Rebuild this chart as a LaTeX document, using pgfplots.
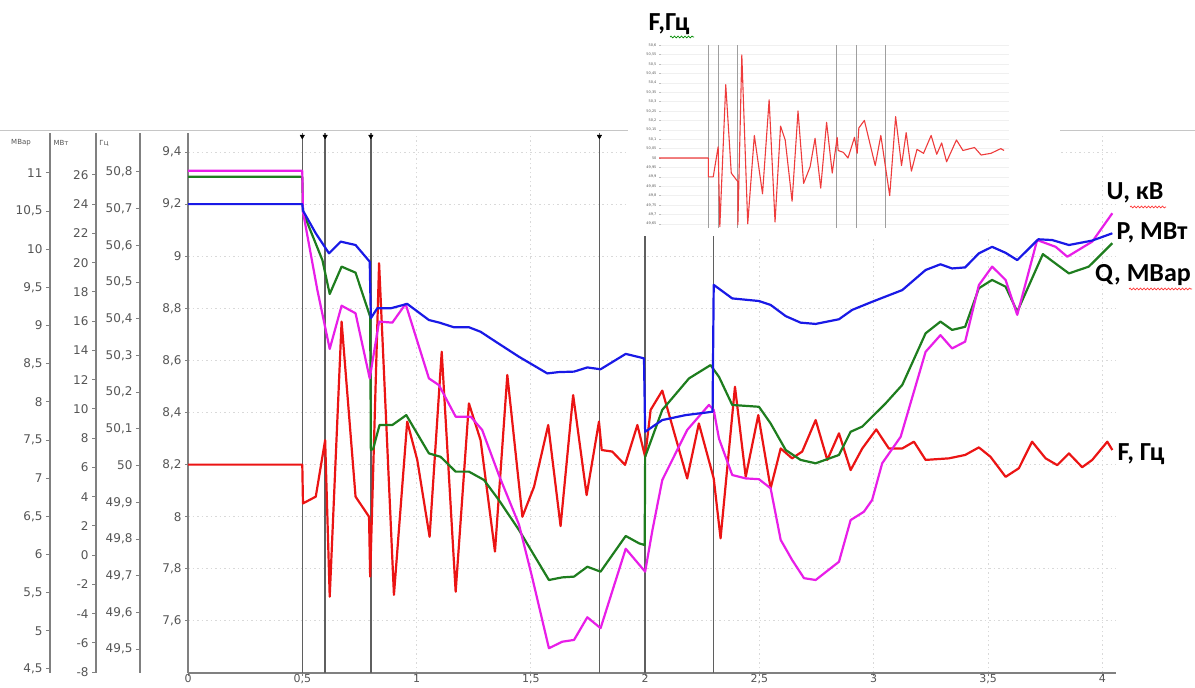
\documentclass[border=0pt]{standalone}
\usepackage{fontspec}
\setmainfont{DejaVu Sans}
\newfontfamily\lab{Carlito}
\usepackage{pgfplots}
\pgfplotsset{compat=1.18}
\usetikzlibrary{decorations.pathmorphing}
\definecolor{cU}{RGB}{25,25,230}
\definecolor{cP}{RGB}{232,30,232}
\definecolor{cQ}{RGB}{30,125,30}
\definecolor{cF}{RGB}{235,20,20}
\definecolor{cFi}{RGB}{238,60,60}
\definecolor{tk}{RGB}{85,85,85}
\definecolor{sp}{RGB}{128,128,128}
\definecolor{ev}{RGB}{95,95,95}
\pgfplotsset{
  numfmt/.style={/pgf/number format/assume math mode=true,/pgf/number format/use comma,/pgf/number format/fixed,/pgf/number format/1000 sep={}},
  sideax/.style={scale only axis, anchor=south west, width=2pt, height=540pt,
    xmin=0, xmax=1, axis x line=none, axis y line*=left,
    y axis line style={sp, line width=2.5pt},
    tick align=outside, major tick length=4pt, ytick style={sp, line width=1pt},
    yticklabel style={font=\fontsize{12}{14}\selectfont, text=tk},
    numfmt}
}
\begin{document}
\begin{tikzpicture}[x=1pt,y=1pt]
\path[use as bounding box] (0,0) rectangle (1195,688);
\draw[gray!45, line width=1pt] (0,557) -- (1195,557);
% side axes
\begin{axis}[sideax, at={(50pt,15pt)}, ymin=4.447, ymax=11.524, ytick={4.5,5,5.5,6,6.5,7,7.5,8,8.5,9,9.5,10,10.5,11}]
\end{axis}
\begin{axis}[sideax, at={(96pt,15pt)}, ymin=-8.06, ymax=28.87, ytick={-8,-6,-4,-2,0,2,4,6,8,10,12,14,16,18,20,22,24,26}]
\end{axis}
\begin{axis}[sideax, at={(140pt,15pt)}, ymin=49.435, ymax=50.906, ytick={49.5,49.6,49.7,49.8,49.9,50,50.1,50.2,50.3,50.4,50.5,50.6,50.7,50.8}]
\end{axis}
\node[font=\fontsize{7}{8}\selectfont, text=tk] at (21,545) {МВар};
\node[font=\fontsize{7}{8}\selectfont, text=tk] at (61,545) {МВт};
\node[font=\fontsize{7}{8}\selectfont, text=tk] at (104,545) {Гц};
% main axis
\begin{axis}[scale only axis, anchor=south west, at={(188pt,15pt)}, width=928pt, height=540pt,
  xmin=0, xmax=4.06, ymin=7.4, ymax=9.473,
  axis x line*=bottom, axis y line*=left, axis line style={sp, line width=2pt},
  xtick={0,0.5,1,1.5,2,2.5,3,3.5,4}, ytick={7.6,7.8,8,8.2,8.4,8.6,8.8,9,9.2,9.4},
  tick align=outside, major tick length=3pt, tick style={sp, line width=1pt},
  grid=major, grid style={dash pattern=on 1.5pt off 3pt, gray!30, line width=0.9pt},
  yticklabel style={font=\fontsize{12}{14}\selectfont, text=tk},
  xticklabel style={font=\fontsize{11}{12}\selectfont, text=tk, inner sep=0.5pt, yshift=2.5pt},
  numfmt, line join=round]
% event lines
\addplot[ev, line width=1.4pt] coordinates {(0.5,7.4) (0.5,9.473)};
\addplot[ev, line width=1.4pt] coordinates {(0.6,7.4) (0.6,9.473)};
\addplot[ev, line width=1.4pt] coordinates {(0.8,7.4) (0.8,9.473)};
\addplot[ev, line width=1.4pt] coordinates {(1.8,7.4) (1.8,9.473)};
\addplot[ev, line width=1.4pt] coordinates {(2.0,7.4) (2.0,9.473)};
\addplot[ev, line width=1.4pt] coordinates {(2.3,7.4) (2.3,9.473)};
\addplot[only marks, mark=triangle*, mark size=2.6pt, mark options={rotate=180, fill=black, draw=black}] coordinates {(0.5,9.46) (0.6,9.46) (0.8,9.46) (1.8,9.46)};
% F
\addplot[cF, line width=2.2pt] coordinates {(0,8.2) (0.5,8.2) (0.503,8.051) (0.559,8.077) (0.60,8.294) (0.62,7.693) (0.672,8.749) (0.733,8.077) (0.792,8.0) (0.797,7.77) (0.836,8.973) (0.901,7.70) (0.959,8.365) (1.003,8.218) (1.057,7.923) (1.11,8.633) (1.171,7.712) (1.229,8.435) (1.28,8.294) (1.343,7.866) (1.397,8.544) (1.463,8.0) (1.514,8.115) (1.576,8.352) (1.63,7.964) (1.685,8.467) (1.744,8.083) (1.798,8.365) (1.81,8.256) (1.856,8.25) (1.912,8.199) (1.966,8.352) (2.0,8.23) (2.024,8.41) (2.075,8.484) (2.184,8.147) (2.235,8.358) (2.30,8.147) (2.33,7.917) (2.393,8.499) (2.44,8.153) (2.495,8.39) (2.549,8.109) (2.593,8.262) (2.643,8.224) (2.687,8.25) (2.746,8.371) (2.797,8.218) (2.848,8.32) (2.899,8.179) (2.95,8.262) (3.011,8.335) (3.066,8.262) (3.125,8.262) (3.176,8.288) (3.227,8.218) (3.329,8.224) (3.40,8.237) (3.46,8.266) (3.511,8.23) (3.577,8.153) (3.635,8.186) (3.693,8.288) (3.752,8.224) (3.803,8.198) (3.854,8.243) (3.912,8.19) (3.956,8.218) (4.022,8.288) (4.044,8.256)};
% Q
\addplot[cQ, line width=2.2pt] coordinates {(0,9.305) (0.5,9.305) (0.503,9.17) (0.588,8.985) (0.62,8.855) (0.672,8.96) (0.733,8.937) (0.797,8.768) (0.8,8.256) (0.81,8.26) (0.838,8.352) (0.894,8.352) (0.955,8.39) (1.054,8.243) (1.105,8.23) (1.171,8.173) (1.229,8.173) (1.295,8.141) (1.36,8.064) (1.448,7.949) (1.579,7.757) (1.637,7.767) (1.689,7.77) (1.747,7.808) (1.805,7.789) (1.915,7.926) (1.973,7.898) (1.998,7.891) (2.0,8.23) (2.075,8.41) (2.192,8.531) (2.286,8.582) (2.323,8.537) (2.381,8.429) (2.498,8.422) (2.549,8.358) (2.615,8.256) (2.68,8.218) (2.746,8.205) (2.848,8.237) (2.899,8.326) (2.95,8.346) (3.052,8.435) (3.125,8.506) (3.227,8.704) (3.292,8.749) (3.343,8.717) (3.40,8.729) (3.46,8.877) (3.518,8.909) (3.577,8.883) (3.628,8.787) (3.74,9.008) (3.854,8.934) (3.941,8.96) (4.044,9.05)};
% P
\addplot[cP, line width=2.2pt] coordinates {(0,9.328) (0.5,9.328) (0.503,9.171) (0.566,8.87) (0.62,8.644) (0.672,8.81) (0.733,8.781) (0.795,8.531) (0.836,8.749) (0.894,8.745) (0.952,8.817) (1.054,8.531) (1.098,8.505) (1.171,8.384) (1.237,8.384) (1.287,8.333) (1.36,8.16) (1.448,7.97) (1.505,7.77) (1.579,7.495) (1.637,7.52) (1.689,7.527) (1.747,7.614) (1.805,7.572) (1.915,7.877) (2.0,7.789) (2.032,7.949) (2.075,8.141) (2.184,8.333) (2.279,8.429) (2.30,8.41) (2.323,8.30) (2.381,8.16) (2.44,8.147) (2.498,8.144) (2.549,8.109) (2.593,7.911) (2.643,7.834) (2.695,7.764) (2.746,7.757) (2.848,7.827) (2.899,7.987) (2.957,8.019) (2.993,8.064) (3.037,8.205) (3.118,8.307) (3.227,8.633) (3.292,8.697) (3.343,8.646) (3.40,8.672) (3.46,8.889) (3.518,8.96) (3.577,8.909) (3.628,8.775) (3.715,9.062) (3.796,9.036) (3.847,8.998) (3.956,9.056) (4.044,9.165)};
% U
\addplot[cU, line width=2.2pt] coordinates {(0,9.2) (0.5,9.2) (0.503,9.175) (0.559,9.088) (0.617,9.011) (0.668,9.056) (0.733,9.043) (0.795,8.979) (0.8,8.762) (0.828,8.80) (0.887,8.80) (0.959,8.817) (1.054,8.755) (1.10,8.745) (1.164,8.727) (1.23,8.727) (1.28,8.71) (1.346,8.672) (1.448,8.614) (1.572,8.55) (1.62,8.555) (1.689,8.557) (1.747,8.573) (1.805,8.566) (1.915,8.625) (1.995,8.608) (2.0,8.326) (2.075,8.371) (2.177,8.39) (2.295,8.403) (2.30,8.89) (2.381,8.838) (2.498,8.828) (2.549,8.813) (2.615,8.77) (2.68,8.745) (2.746,8.74) (2.848,8.758) (2.906,8.794) (2.993,8.825) (3.125,8.87) (3.227,8.947) (3.292,8.969) (3.343,8.953) (3.40,8.957) (3.46,9.011) (3.518,9.036) (3.577,9.013) (3.628,8.985) (3.72,9.065) (3.781,9.062) (3.854,9.043) (3.956,9.06) (4.044,9.088)};
\end{axis}
% series labels
\node[font=\lab\bfseries\fontsize{26}{28}\selectfont, anchor=center] at (1135,495) {U, кВ};
\node[font=\lab\bfseries\fontsize{26}{28}\selectfont, anchor=center] at (1152,455) {P, МВт};
\node[font=\lab\bfseries\fontsize{26}{28}\selectfont, anchor=center] at (1143,413) {Q, МВар};
\node[font=\lab\bfseries\fontsize{26}{28}\selectfont, anchor=center] at (1141,234) {F, Гц};
\draw[red!80, line width=0.7pt, decorate, decoration={snake, amplitude=0.9pt, segment length=3.5pt}] (1130,481) -- (1166,481);
\draw[red!80, line width=0.7pt, decorate, decoration={snake, amplitude=0.9pt, segment length=3.5pt}] (1129,399) -- (1192,399);
% inset
\fill[white] (628,452) rectangle (1060,688);
\node[font=\lab\bfseries\fontsize{26}{28}\selectfont, anchor=center] at (669,664) {F,Гц};
\draw[green!55!black, line width=0.7pt, decorate, decoration={snake, amplitude=0.9pt, segment length=3.5pt}] (670,651) -- (694,651);
\begin{axis}[scale only axis, anchor=south west, at={(659pt,460pt)}, width=350pt, height=183pt,
  xmin=0, xmax=3.55, ymin=49.628, ymax=50.601,
  axis x line=none, axis y line*=left, y axis line style={draw=none},
  xtick=\empty, ytick={49.65,49.7,49.75,49.8,49.85,49.9,49.95,50,50.05,50.1,50.15,50.2,50.25,50.3,50.35,50.4,50.45,50.5,50.55,50.6},
  ymajorgrids, grid style={gray!12, line width=0.5pt}, major tick length=1.5pt, tick style={gray!50, line width=0.4pt},
  yticklabel style={font=\fontsize{3.5}{4}\selectfont, text=tk, xshift=1pt},
  numfmt, /pgf/number format/precision=2, line join=round]
\addplot[gray!75, line width=0.8pt] coordinates {(0.5,49.628) (0.5,50.601)};
\addplot[gray!75, line width=0.8pt] coordinates {(0.6,49.628) (0.6,50.601)};
\addplot[gray!75, line width=0.8pt] coordinates {(0.8,49.628) (0.8,50.601)};
\addplot[gray!75, line width=0.8pt] coordinates {(1.8,49.628) (1.8,50.601)};
\addplot[gray!75, line width=0.8pt] coordinates {(2.0,49.628) (2.0,50.601)};
\addplot[gray!75, line width=0.8pt] coordinates {(2.3,49.628) (2.3,50.601)};
\addplot[cFi, line width=1.1pt] coordinates {(0,50) (0.5,50) (0.5,49.90) (0.55,49.90) (0.6,50.06) (0.617,49.635) (0.677,50.39) (0.733,49.92) (0.8,49.874) (0.8,49.645) (0.84,50.548) (0.9,49.65) (0.967,50.12) (1.05,49.81) (1.117,50.31) (1.177,49.66) (1.233,50.17) (1.28,50.096) (1.35,49.77) (1.41,50.25) (1.467,49.865) (1.533,49.954) (1.583,50.105) (1.64,49.84) (1.70,50.19) (1.757,49.92) (1.807,50.11) (1.817,50.04) (1.87,50.03) (1.917,50.0) (1.983,50.11) (2.01,50.025) (2.027,50.16) (2.083,50.20) (2.193,49.96) (2.25,50.12) (2.34,49.80) (2.40,50.22) (2.46,49.96) (2.507,50.135) (2.56,49.93) (2.617,50.046) (2.683,50.025) (2.76,50.12) (2.817,50.02) (2.867,50.08) (2.917,49.98) (3.017,50.096) (3.083,50.04) (3.2,50.056) (3.267,50.016) (3.367,50.025) (3.467,50.05) (3.5,50.04)};
\end{axis}
\end{tikzpicture}
\end{document}
